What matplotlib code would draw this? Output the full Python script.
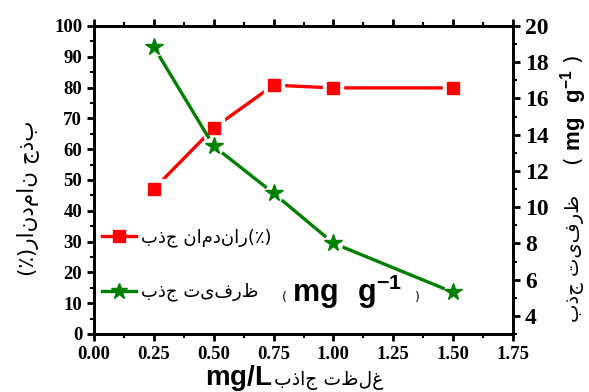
import matplotlib
matplotlib.use("Agg")
import matplotlib.pyplot as plt
from matplotlib.ticker import MultipleLocator, FormatStrFormatter

# data
dose = [0.25, 0.5, 0.75, 1.0, 1.5]
removal = [47.1, 66.9, 80.8, 79.9, 79.9]
capacity = [18.84, 13.37, 10.77, 8.01, 5.30]

# labels (logical Persian text; matplotlib draws them left-to-right without shaping)
vis = lambda s: s[::-1]
removal_name = "راندمان جذب"
capacity_name = "ظرفیت جذب"
dose_name = "غلظت جاذب"

plt.rcParams['mathtext.fontset'] = 'custom'
plt.rcParams['mathtext.bf'] = 'Liberation Sans:bold'
plt.rcParams['mathtext.rm'] = 'Liberation Sans:bold'

fig = plt.figure(figsize=(5.89, 3.92), dpi=100)
ax = fig.add_axes([94/589, 1-334/392, (513-94)/589, (334-26)/392])
ax2 = ax.twinx()

red = '#ff0000'
green = '#008000'

# lines, with a white halo under each marker so the line stops short of it
l1, = ax.plot(dose, removal, color=red, lw=2.4, marker='s', ms=8,
              mec=red, mfc=red, zorder=3)
ax.plot(dose, removal, ls='none', marker='s', ms=14, mfc='white', mec='white', zorder=3.5)
l2, = ax2.plot(dose, capacity, color=green, lw=2.4, marker='*', ms=12,
               mec=green, mfc=green, zorder=3)
ax2.plot(dose, capacity, ls='none', marker='o', ms=13, mfc='white', mec='white', zorder=3.5)
ax.plot(dose, removal, ls='none', marker='s', ms=8, mfc=red, mec=red, zorder=4)
ax2.plot(dose, capacity, ls='none', marker='*', ms=13, mfc=green, mec=green, zorder=4)

ax.set_xlim(0, 1.75)
ax.set_ylim(0, 100)
ax2.set_ylim(3, 20)
ax.xaxis.set_major_locator(MultipleLocator(0.25))
ax.xaxis.set_minor_locator(MultipleLocator(0.125))
ax.yaxis.set_major_locator(MultipleLocator(10))
ax.yaxis.set_minor_locator(MultipleLocator(5))
ax2.yaxis.set_minor_locator(MultipleLocator(1))
ax2.set_yticks(range(4, 21, 2))
ax.xaxis.set_major_formatter(FormatStrFormatter('%.2f'))

for a in (ax, ax2):
    for s in a.spines.values():
        s.set_linewidth(2.0)
ax.tick_params(axis='both', which='major', direction='out', length=5, width=2,
               labelsize=13.5)
ax.tick_params(axis='both', which='minor', direction='out', length=3, width=1.5)
ax.tick_params(axis='x', which='both', top=True, labeltop=False)
ax2.tick_params(axis='y', which='major', direction='out', length=5, width=2, labelsize=17)
ax2.tick_params(axis='y', which='minor', direction='out', length=3, width=1.5)
for lab in ax.get_xticklabels() + ax.get_yticklabels() + ax2.get_yticklabels():
    lab.set_fontfamily('Liberation Serif')
    lab.set_fontweight('bold')

pfont = dict(family=['DejaVu Sans'], size=15.5)

# left axis label
fig.text(28/589, 1-198/392, "(٪)" + removal_name, rotation=90, ha='center', va='center',
         **pfont)

# right axis label
fig.text(575/589, 1-258/392, vis(capacity_name), rotation=90, ha='center', va='center',
         family=['DejaVu Sans'], size=14)
fig.text(574/589, 1-110/392, r"( $\mathbf{mg\ \ g^{-1}}$ )", rotation=90,
         ha='center', va='center', size=16)

# x label
fig.text(272/589, 7/392, r"$\mathbf{mg/L}$", ha='right', va='baseline', size=20)
fig.text(274/589, 7/392, vis(dose_name), ha='left', va='baseline',
         family=['DejaVu Sans'], size=13.5)

# legend
leg = ax.legend([l1, l2], [vis(removal_name) + "(٪)", vis(capacity_name)],
                loc='upper left', bbox_to_anchor=(0.0, 0.37), frameon=False,
                prop=dict(family=['DejaVu Sans'], size=13), handlelength=1.9,
                handletextpad=0.25, labelspacing=2.0, borderaxespad=0.05)
ax.text(190/419, 1-(297-26)/308, "(", transform=ax.transAxes, ha='center', va='center',
        size=9)
ax.text(253/419, 1-(292-26)/308, r"$\mathbf{mg\ \ g^{-1}}$", transform=ax.transAxes,
        ha='center', va='center', size=22)
ax.text(323/419, 1-(297-26)/308, ")", transform=ax.transAxes, ha='center', va='center',
        size=9)

fig.savefig('out.png', dpi=100)
